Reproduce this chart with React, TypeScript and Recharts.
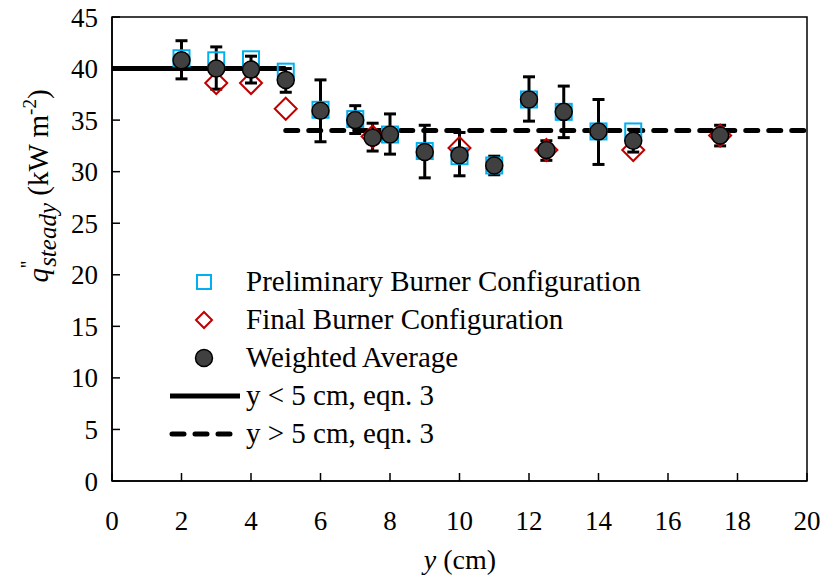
import React from 'react';
import {
  ComposedChart, Scatter, Line, XAxis, YAxis, ErrorBar, ReferenceArea, Customized,
} from 'recharts';

// ---- data ----
const avgX = [2, 3, 4, 5, 6, 7, 7.5, 8, 9, 10, 11, 12, 12.5, 13, 14, 15, 17.5];
const avgY = [40.8, 40.0, 39.9, 38.9, 35.9, 35.0, 33.3, 33.6, 31.9, 31.6, 30.6, 37.0, 32.1, 35.8, 33.9, 33.0, 33.5];
const avgHigh = [42.7, 42.1, 41.2, 40.0, 38.9, 36.4, 34.7, 35.6, 34.5, 33.8, 31.5, 39.2, 33.0, 38.3, 37.0, 34.1, 34.5];
const avgLow = [39.0, 38.0, 38.6, 37.7, 32.9, 33.7, 32.0, 31.7, 29.4, 29.6, 29.7, 34.9, 31.1, 33.3, 30.7, 31.9, 32.5];

const prelimX = [2, 3, 4, 5, 6, 7, 8, 9, 10, 11, 12, 13, 14, 15];
const prelimY = [41.0, 40.8, 40.9, 39.7, 36.0, 35.1, 33.6, 32.0, 31.5, 30.6, 37.0, 35.8, 33.9, 33.9];

const finalX = [3, 4, 5, 7.5, 10, 12.5, 15, 17.5];
const finalY = [38.6, 38.6, 36.1, 33.4, 32.3, 32.1, 32.1, 33.5];

const lowFitX = [0, 5];
const lowFitY = [40, 40];
const highFitX = [5, 20];
const highFitY = [34, 34];

const xTicks = [0, 2, 4, 6, 8, 10, 12, 14, 16, 18, 20];
const yTicks = [0, 5, 10, 15, 20, 25, 30, 35, 40, 45];

const legendLabels = [
  'Preliminary Burner Configuration',
  'Final Burner Configuration',
  'Weighted Average',
  'y < 5 cm, eqn. 3',
  'y > 5 cm, eqn. 3',
];

// ---- tables built from the arrays ----
const avgData = avgX.map((x, i) => ({ x, y: avgY[i], err: [avgY[i] - avgLow[i], avgHigh[i] - avgY[i]] }));
const prelimData = prelimX.map((x, i) => ({ x, y: prelimY[i] }));
const finalData = finalX.map((x, i) => ({ x, y: finalY[i] }));
const lowFit = lowFitX.map((x, i) => ({ x, y: lowFitY[i] }));
const highFit = highFitX.map((x, i) => ({ x, y: highFitY[i] }));

const FONT = 'Liberation Serif';
const CSS = `#chartroot text, #chartroot tspan, #chartroot .recharts-text { font-family: "Liberation Serif" !important; }`;
const CYAN = '#00B0F0';
const RED = '#C00000';
const DARK = '#404040';

const Square = (p: any) => (
  <rect x={p.cx - 8} y={p.cy - 8} width={16} height={16} fill="none" stroke={CYAN} strokeWidth={2} />
);
const Diamond = (p: any) => (
  <path
    d={`M${p.cx},${p.cy - 11} L${p.cx + 11},${p.cy} L${p.cx},${p.cy + 11} L${p.cx - 11},${p.cy} Z`}
    fill="none"
    stroke={RED}
    strokeWidth={2}
  />
);
const Dot = (p: any) => (
  <circle cx={p.cx} cy={p.cy} r={8.5} fill={DARK} stroke="#000" strokeWidth={1.5} />
);

const Decorations = () => {
  const rows = [282, 320, 358, 396, 434];
  const iconX = 204;
  const textX = 246;
  const tx = 48;
  const ty = 186;
  return (
    <g fontFamily={FONT}>
      <style>{CSS}</style>
      {/* legend */}
      <rect x={iconX - 7} y={rows[0] - 7} width={14} height={14} fill="none" stroke={CYAN} strokeWidth={2} />
      <path
        d={`M${iconX},${rows[1] - 8} L${iconX + 8},${rows[1]} L${iconX},${rows[1] + 8} L${iconX - 8},${rows[1]} Z`}
        fill="none"
        stroke={RED}
        strokeWidth={2}
      />
      <circle cx={iconX} cy={rows[2]} r={8.5} fill={DARK} stroke="#000" strokeWidth={1.5} />
      <line x1={170} x2={240} y1={rows[3]} y2={rows[3]} stroke="#000" strokeWidth={5} />
      <line x1={172} x2={232} y1={rows[4]} y2={rows[4]} stroke="#000" strokeWidth={5} strokeDasharray="12 11" strokeLinecap="round" />
      {legendLabels.map((t, i) => (
        <text key={t} x={textX} y={rows[i] + 9} fontSize={29} fill="#000" fontFamily={FONT}>{t}</text>
      ))}
      {/* y-axis title */}
      <text
        x={tx}
        y={ty}
        transform={`rotate(-90 ${tx} ${ty})`}
        textAnchor="middle"
        fontSize={29}
        fill="#000"
        fontFamily={FONT}
      >
        <tspan fontStyle="italic">q</tspan>
        <tspan fontSize={20} dy={-13}>''</tspan>
        <tspan fontSize={25} fontStyle="italic" dx={-6} dy={21}>steady</tspan>
        <tspan dy={-8}> (kW m</tspan>
        <tspan fontSize={19} dy={-12}>-2</tspan>
        <tspan dy={12}>)</tspan>
      </text>
      {/* x-axis title */}
      <text x={460} y={569} textAnchor="middle" fontSize={28} fill="#000" fontFamily={FONT}>
        <tspan fontStyle="italic">y</tspan>
        <tspan> (cm)</tspan>
      </text>
    </g>
  );
};

export default function App() {
  const ref = React.useRef<HTMLDivElement>(null);
  React.useLayoutEffect(() => {
    const el = ref.current;
    if (!el) return;
    el.querySelectorAll('text, tspan').forEach((n: any) => {
      n.style.setProperty('font-family', '"Liberation Serif"', 'important');
    });
  });
  const tick = { fontSize: 27, fill: '#000', fontFamily: FONT };
  return (
    <div
      id="chartroot"
      ref={ref}
      style={{ position: 'absolute', left: 0, top: 0, width: 828, height: 581, background: '#fff', fontFamily: '"Liberation Serif"' }}
    >
      <style>{CSS}</style>
      <ComposedChart width={828} height={581} margin={{ top: 17, right: 21, bottom: 40, left: 0 }}>
        <XAxis
          type="number"
          dataKey="x"
          domain={[0, 20]}
          ticks={xTicks}
          interval={0}
          height={60}
          tick={tick}
          tickSize={-8}
          tickMargin={38}
          axisLine={{ stroke: '#000', strokeWidth: 1.5 }}
          tickLine={{ stroke: '#000', strokeWidth: 1.5 }}
          allowDataOverflow
        />
        <YAxis
          type="number"
          dataKey="y"
          domain={[0, 45]}
          ticks={yTicks}
          interval={0}
          width={112}
          tick={tick}
          tickSize={-8}
          tickMargin={22}
          axisLine={{ stroke: '#000', strokeWidth: 1.5 }}
          tickLine={{ stroke: '#000', strokeWidth: 1.5 }}
          allowDataOverflow
        />
        <ReferenceArea x1={0} x2={20} y1={0} y2={45} fill="none" stroke="#000" strokeWidth={1.5} ifOverflow="visible" />
        <Line data={lowFit} dataKey="y" stroke="#000" strokeWidth={5} dot={false} isAnimationActive={false} legendType="none" />
        <Line
          data={highFit}
          dataKey="y"
          stroke="#000"
          strokeWidth={5}
          strokeDasharray="12 11"
          strokeLinecap="round"
          dot={false}
          isAnimationActive={false}
          legendType="none"
        />
        <Scatter data={prelimData} dataKey="y" shape={Square} isAnimationActive={false} />
        <Scatter data={finalData} dataKey="y" shape={Diamond} isAnimationActive={false} />
        <Scatter data={avgData} dataKey="y" shape={Dot} isAnimationActive={false}>
          <ErrorBar dataKey="err" direction="y" width={6} stroke="#000" strokeWidth={3} />
        </Scatter>
        <Customized component={Decorations} />
      </ComposedChart>
    </div>
  );
}
